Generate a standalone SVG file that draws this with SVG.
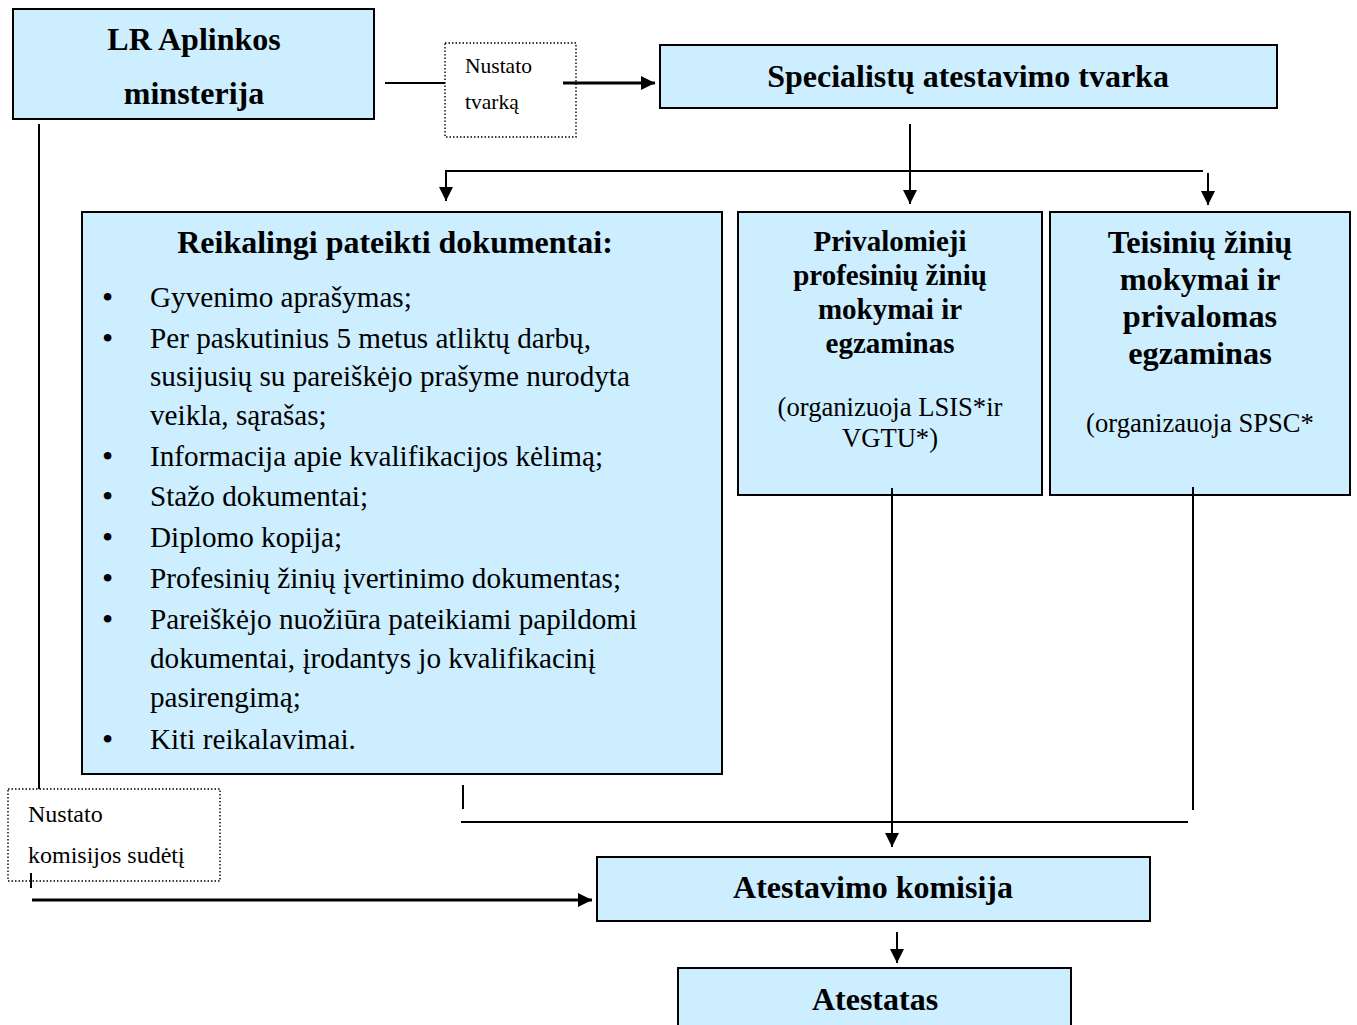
<svg xmlns="http://www.w3.org/2000/svg" width="1357" height="1025" viewBox="0 0 1357 1025">
<defs>
<marker id="ah2" viewBox="0 0 10 10" refX="10" refY="5" markerWidth="14" markerHeight="14" markerUnits="userSpaceOnUse" orient="auto"><path d="M0,0 L10,5 L0,10 z" fill="#000"/></marker>
<style>
.box{fill:#cdeeff;stroke:#000;stroke-width:2}
.dot{fill:none;stroke:#000;stroke-width:1.4;stroke-dasharray:1.5 2}
.t{font-family:"Liberation Serif","Times New Roman",serif;fill:#000}
.b{font-weight:bold}
.c{text-anchor:middle}
.ln{stroke:#000;stroke-width:2;fill:none}
.ln3{stroke:#000;stroke-width:3;fill:none}
</style>
</defs>
<rect width="1357" height="1025" fill="#fff"/>
<g id="n-lr">
<rect class="box" x="13" y="9" width="361" height="110"/>
<text class="t b c" x="194" y="50" font-size="32">LR Aplinkos</text>
<text class="t b c" x="194" y="104" font-size="32">minsterija</text>
</g>
<g id="n-nustato1">
<rect class="dot" x="445" y="43" width="131" height="94"/>
<text class="t" x="465" y="73" font-size="21.5">Nustato</text>
<text class="t" x="465" y="109" font-size="21.5">tvarką</text>
</g>
<g id="n-spec">
<rect class="box" x="660" y="45" width="617" height="63"/>
<text class="t b c" x="968" y="87" font-size="32">Specialistų atestavimo tvarka</text>
</g>
<g id="n-docs">
<rect class="box" x="82" y="212" width="640" height="562"/>
<text class="t b c" x="395" y="253" font-size="32">Reikalingi pateikti dokumentai:</text>
<g class="t" font-size="29.2">
<text x="102" y="308" font-size="32">•</text><text x="150" y="307">Gyvenimo aprašymas;</text>
<text x="102" y="349" font-size="32">•</text><text x="150" y="348">Per paskutinius 5 metus atliktų darbų,</text>
<text x="150" y="386">susijusių su pareiškėjo prašyme nurodyta</text>
<text x="150" y="425">veikla, sąrašas;</text>
<text x="102" y="467" font-size="32">•</text><text x="150" y="466">Informacija apie kvalifikacijos kėlimą;</text>
<text x="102" y="507" font-size="32">•</text><text x="150" y="506">Stažo dokumentai;</text>
<text x="102" y="548" font-size="32">•</text><text x="150" y="547">Diplomo kopija;</text>
<text x="102" y="589" font-size="32">•</text><text x="150" y="588">Profesinių žinių įvertinimo dokumentas;</text>
<text x="102" y="630" font-size="32">•</text><text x="150" y="629">Pareiškėjo nuožiūra pateikiami papildomi</text>
<text x="150" y="668">dokumentai, įrodantys jo kvalifikacinį</text>
<text x="150" y="707">pasirengimą;</text>
<text x="102" y="750" font-size="32">•</text><text x="150" y="749">Kiti reikalavimai.</text>
</g>
</g>
<g id="n-priv">
<rect class="box" x="738" y="212" width="304" height="283"/>
<g class="t b c" font-size="29">
<text x="890" y="251">Privalomieji</text>
<text x="890" y="285">profesinių žinių</text>
<text x="890" y="319">mokymai ir</text>
<text x="890" y="353">egzaminas</text>
</g>
<text class="t c" x="890" y="416" font-size="26.6">(organizuoja LSIS*ir</text>
<text class="t c" x="890" y="447" font-size="26.6">VGTU*)</text>
</g>
<g id="n-teis">
<rect class="box" x="1050" y="212" width="300" height="283"/>
<g class="t b c" font-size="32.3">
<text x="1200" y="253">Teisinių žinių</text>
<text x="1200" y="290">mokymai ir</text>
<text x="1200" y="327">privalomas</text>
<text x="1200" y="364">egzaminas</text>
</g>
<text class="t c" x="1200" y="432" font-size="26.6">(organizauoja SPSC*</text>
</g>
<g id="n-nustato2">
<rect class="dot" x="8" y="789" width="212" height="92"/>
<text class="t" x="28" y="822" font-size="24">Nustato</text>
<text class="t" x="28" y="863" font-size="24">komisijos sudėtį</text>
</g>
<g id="n-komisija">
<rect class="box" x="597" y="857" width="553" height="64"/>
<text class="t b c" x="873" y="898" font-size="32">Atestavimo komisija</text>
</g>
<g id="n-atestatas">
<rect class="box" x="678" y="968" width="393" height="70"/>
<text class="t b c" x="875" y="1010" font-size="32">Atestatas</text>
</g>
<g id="connectors">
<line class="ln" x1="385" y1="83" x2="445" y2="83"/>
<line class="ln3" x1="563" y1="83" x2="655" y2="83" marker-end="url(#ah2)"/>
<line class="ln" x1="910" y1="124" x2="910" y2="204" marker-end="url(#ah2)"/>
<line class="ln" x1="445" y1="171" x2="1203" y2="171"/>
<line class="ln" x1="446" y1="170" x2="446" y2="201" marker-end="url(#ah2)"/>
<line class="ln" x1="1208" y1="173" x2="1208" y2="205" marker-end="url(#ah2)"/>
<line class="ln" x1="892" y1="488" x2="892" y2="847" marker-end="url(#ah2)"/>
<line class="ln" x1="1193" y1="487" x2="1193" y2="810"/>
<line class="ln" x1="463" y1="785" x2="463" y2="809"/>
<line class="ln" x1="461" y1="822" x2="1188" y2="822"/>
<line class="ln" x1="39" y1="124" x2="39" y2="789"/>
<line class="ln" x1="31" y1="873" x2="31" y2="888"/>
<line class="ln3" x1="32" y1="900" x2="592" y2="900" marker-end="url(#ah2)"/>
<line class="ln" x1="897" y1="932" x2="897" y2="963" marker-end="url(#ah2)"/>
</g>
</svg>
